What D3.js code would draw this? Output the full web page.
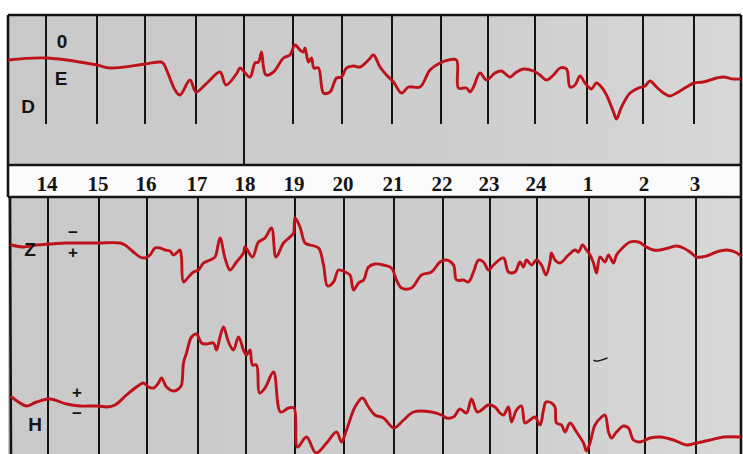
<!DOCTYPE html>
<html>
<head>
<meta charset="utf-8">
<script src="https://cdn.jsdelivr.net/npm/d3@7/dist/d3.min.js"></script>
<style>
  html, body { margin: 0; padding: 0; background: #ffffff; }
  svg { display: block; }
</style>
</head>
<body>
<svg id="chart" width="743" height="454"></svg>
<script>
// Chart time in hours (values above 24 belong to the following morning)
const hourMarks  = [14.00, 15.02, 15.98, 17.00, 17.96, 18.94, 19.92, 20.92, 21.90, 22.84, 23.78, 24.82, 25.94, 26.96];
const hourLabels = ["14", "15", "16", "17", "18", "19", "20", "21", "22", "23", "24", "1", "2", "3"];

// Declination trace (D)
const dTime = [13.24, 14.00, 15.02, 15.28, 15.98, 16.28, 16.34, 16.58, 16.68, 16.88,
               17.00, 17.22, 17.48, 17.60, 17.82, 17.88, 18.08, 18.18, 18.25, 18.31,
               18.35, 18.40, 18.55, 18.75, 18.88, 18.98, 19.08, 19.15, 19.18, 19.25,
               19.31, 19.36, 19.45, 19.55, 19.68, 19.81, 19.91, 20.01, 20.15, 20.28,
               20.45, 20.55, 20.68, 20.81, 20.95, 21.11, 21.25, 21.48, 21.68, 21.88,
               22.05, 22.21, 22.25, 22.41, 22.48, 22.55, 22.68, 22.81, 22.98, 23.11,
               23.28, 23.41, 23.55, 23.75, 23.88, 24.01, 24.15, 24.28, 24.41, 24.48,
               24.58, 24.68, 24.78, 24.85, 24.91, 25.01, 25.11, 25.21, 25.35, 25.41,
               25.51, 25.68, 25.85, 25.98, 26.08, 26.21, 26.35, 26.48, 26.61, 26.81,
               26.96, 27.15, 27.41, 27.55, 27.75, 27.90];
const dValue = [0, 2, -5, -8, -4, -2, -3, -30, -35, -20,
                -32, -23, -12, -25, -13, -8, -17, -3, -2, 8,
                -7, -15, -12, 2, 5, 15, 10, 8, 12, -2,
                2, -8, -8, -33, -32, -18, -17, -8, -6, -7,
                0, 5, -7, -15, -22, -33, -27, -27, -10, -3,
                0, 0, -28, -28, -32, -27, -13, -20, -13, -11,
                -17, -12, -9, -11, -15, -20, -15, -8, -9, -27,
                -25, -16, -23, -27, -29, -23, -27, -35, -52, -59,
                -47, -33, -28, -26, -21, -27, -33, -36, -33, -27,
                -23, -22, -18, -17, -19, -19];

// Vertical intensity trace (Z)
const zTime = [13.27, 13.51, 13.77, 14.04, 14.37, 14.71, 15.01, 15.44, 15.54, 15.71,
               15.84, 15.94, 16.04, 16.14, 16.24, 16.34, 16.44, 16.51, 16.57, 16.64,
               16.67, 16.71, 16.81, 16.91, 17.01, 17.11, 17.24, 17.34, 17.44, 17.54,
               17.64, 17.77, 17.91, 17.94, 18.09, 18.21, 18.34, 18.47, 18.56, 18.71,
               18.84, 18.91, 18.94, 19.04, 19.14, 19.24, 19.41, 19.51, 19.59, 19.71,
               19.81, 19.94, 20.04, 20.11, 20.21, 20.31, 20.41, 20.54, 20.71, 20.87,
               20.97, 21.07, 21.27, 21.47, 21.67, 21.84, 21.97, 22.11, 22.17, 22.31,
               22.41, 22.51, 22.61, 22.71, 22.81, 22.91, 23.11, 23.21, 23.34, 23.44,
               23.51, 23.57, 23.67, 23.77, 23.87, 23.96, 24.04, 24.07, 24.14, 24.24,
               24.41, 24.54, 24.61, 24.69, 24.77, 24.84, 24.91, 24.97, 25.04, 25.14,
               25.21, 25.31, 25.37, 25.51, 25.64, 25.81, 25.97, 26.11, 26.24, 26.41,
               26.57, 26.71, 26.84, 26.97, 27.17, 27.37, 27.57, 27.74, 27.86];
const zValue = [-2, -4, -2, -1, 0, 0, 0, 0, -2, -9,
                -14, -15, -12, -5, -5, -7, -8, -12, -10, -7,
                -15, -39, -34, -29, -27, -20, -17, -14, 5, -15,
                -27, -19, -10, -4, -14, 1, 5, 15, -14, 0,
                6, 10, 25, 16, 0, -2, -5, -22, -43, -39,
                -27, -29, -32, -47, -40, -37, -24, -21, -22, -25,
                -37, -45, -45, -32, -29, -19, -17, -22, -37, -37,
                -39, -29, -17, -19, -27, -22, -15, -29, -29, -19,
                -24, -17, -22, -17, -22, -32, -19, -10, -17, -20,
                -12, -7, -9, -2, -7, -12, -20, -30, -14, -19,
                -12, -20, -12, -4, 1, 1, -4, -7, -7, -5,
                -3, -5, -9, -14, -13, -9, -7, -9, -13];

// Horizontal intensity trace (H)
const hTime = [13.27, 13.41, 13.57, 13.77, 14.04, 14.37, 14.64, 15.01, 15.17, 15.34,
               15.57, 15.77, 15.91, 16.01, 16.11, 16.21, 16.27, 16.37, 16.51, 16.61,
               16.67, 16.71, 16.77, 16.87, 16.97, 17.07, 17.17, 17.31, 17.37, 17.44,
               17.51, 17.61, 17.71, 17.81, 17.91, 17.97, 18.04, 18.09, 18.17, 18.23,
               18.34, 18.51, 18.65, 18.81, 18.92, 18.99, 19.17, 19.36, 19.57, 19.77,
               19.87, 19.97, 20.14, 20.29, 20.41, 20.54, 20.71, 20.92, 21.11, 21.31,
               21.67, 21.87, 21.97, 22.11, 22.24, 22.37, 22.47, 22.59, 22.81, 22.94,
               23.04, 23.11, 23.21, 23.27, 23.37, 23.47, 23.54, 23.64, 23.74, 23.84,
               23.91, 23.96, 24.07, 24.14, 24.17, 24.27, 24.34, 24.44, 24.57, 24.71,
               24.77, 24.84, 24.94, 25.07, 25.14, 25.21, 25.27, 25.37, 25.51, 25.61,
               25.71, 25.84, 26.04, 26.24, 26.51, 26.77, 26.97, 27.24, 27.51, 27.86];
const hValue = [8, 3, -1, 3, 6, 1, -1, -1, -2, 0,
                10, 18, 22, 18, 17, 22, 27, 18, 14, 16,
                20, 42, 52, 68, 71, 62, 61, 62, 55, 68,
                78, 63, 55, 68, 55, 50, 55, 40, 40, 12,
                17, 33, -7, -3, -3, -42, -32, -48, -38, -27,
                -37, -25, -2, 7, -2, -10, -13, -23, -15, -7,
                -7, -10, -13, -12, -4, -8, 6, -7, 0, -2,
                -8, -10, -2, -17, -5, -1, -18, -15, -12, -20,
                -5, 3, 2, -2, -18, -20, -27, -18, -27, -38,
                -46, -38, -20, -12, -10, -27, -33, -27, -21, -23,
                -35, -37, -33, -32, -35, -40, -38, -35, -32, -32];

// Small pen stroke left beside the H trace
const penTime  = [24.91, 24.98, 25.19];
const penValue = [45, 43, 47];

// ---------------------------------------------------------------
const svg = d3.select("#chart");
const W = 743, H = 454;

const frame = { left: 8, right: 741, top: 15 };
const topPanel = { top: 15, bottom: 165, markEnd: 124 };
const band = { top: 166, bottom: 197 };
const botPanel = { top: 198, bottom: 462 };

const RED = "#be121b";
const INK = "#141414";

// Time scales; the lower sheet sits a touch to the right of the upper one
const xTop = d3.scaleLinear().domain([14, 27]).range([46, 696]);
const xBot = d3.scaleLinear().domain([14, 27]).range([48, 698]);

// Trace scales (arbitrary units, zero at each trace's baseline)
const yD = d3.scaleLinear().domain([-50, 50]).range([110, 10]);
const yZ = d3.scaleLinear().domain([-50, 50]).range([293, 193]);
const yH = d3.scaleLinear().domain([-50, 50]).range([455, 355]);

const defs = svg.append("defs");
const grad = defs.append("linearGradient").attr("id", "paper")
  .attr("x1", "0%").attr("x2", "100%").attr("y1", "0%").attr("y2", "0%");
grad.append("stop").attr("offset", "0%").attr("stop-color", "#c9c9c9");
grad.append("stop").attr("offset", "60%").attr("stop-color", "#cdcdcd");
grad.append("stop").attr("offset", "100%").attr("stop-color", "#d8d8d8");

defs.append("clipPath").attr("id", "clipTop").append("rect")
  .attr("x", frame.left).attr("y", topPanel.top)
  .attr("width", frame.right - frame.left).attr("height", topPanel.bottom - topPanel.top);
defs.append("clipPath").attr("id", "clipBot").append("rect")
  .attr("x", frame.left).attr("y", botPanel.top)
  .attr("width", frame.right - frame.left).attr("height", botPanel.bottom - botPanel.top);

svg.append("rect").attr("width", W).attr("height", H).attr("fill", "#ffffff");

// Paper of the two sheets
svg.append("rect")
  .attr("x", frame.left).attr("y", topPanel.top)
  .attr("width", frame.right - frame.left).attr("height", topPanel.bottom - topPanel.top)
  .attr("fill", "url(#paper)");
svg.append("rect")
  .attr("x", frame.left).attr("y", botPanel.top)
  .attr("width", frame.right - frame.left).attr("height", botPanel.bottom - botPanel.top)
  .attr("fill", "url(#paper)");
// White time strip
svg.append("rect")
  .attr("x", frame.left).attr("y", band.top)
  .attr("width", frame.right - frame.left).attr("height", band.bottom - band.top)
  .attr("fill", "#fbfbfb");

// Hour marks, upper sheet (the 18h mark runs down to the strip)
svg.append("g").selectAll("line").data(hourMarks).join("line")
  .attr("x1", d => xTop(d)).attr("x2", d => xTop(d))
  .attr("y1", topPanel.top)
  .attr("y2", (d, i) => hourLabels[i] === "18" ? topPanel.bottom : topPanel.markEnd)
  .attr("stroke", INK).attr("stroke-width", 2);

// Hour marks, lower sheet
svg.append("g").selectAll("line").data(hourMarks).join("line")
  .attr("x1", d => xBot(d)).attr("x2", d => xBot(d))
  .attr("y1", botPanel.top).attr("y2", botPanel.bottom)
  .attr("stroke", INK).attr("stroke-width", 2);

// Hour labels in the strip
svg.append("g").selectAll("text").data(hourMarks).join("text")
  .attr("x", d => (xTop(d) + xBot(d)) / 2)
  .attr("y", 190.5)
  .attr("text-anchor", "middle")
  .attr("font-family", "'Liberation Serif', 'DejaVu Serif', serif")
  .attr("font-weight", "bold")
  .attr("font-size", 21)
  .attr("fill", INK)
  .text((d, i) => hourLabels[i]);

// Frame lines
const frameLines = [
  [frame.left, topPanel.top, frame.right, topPanel.top],
  [frame.left, topPanel.bottom, frame.right, topPanel.bottom],
  [frame.left, band.bottom, frame.right, band.bottom],
  [frame.left, topPanel.top, frame.left, band.bottom],
  [frame.left + 2, band.bottom, frame.left + 3, botPanel.bottom],
  [frame.right, topPanel.top, frame.right, botPanel.bottom]
];
svg.append("g").selectAll("line").data(frameLines).join("line")
  .attr("x1", d => d[0]).attr("y1", d => d[1])
  .attr("x2", d => d[2]).attr("y2", d => d[3])
  .attr("stroke", INK).attr("stroke-width", 2.6);

// Traces
function trace(times, values, x, y, clip) {
  const pts = times.map((t, i) => [t, values[i]]);
  svg.append("path")
    .attr("clip-path", `url(#${clip})`)
    .attr("d", d3.line().curve(d3.curveCatmullRom.alpha(0.5))
      .x(d => x(d[0])).y(d => y(d[1]))(pts))
    .attr("fill", "none")
    .attr("stroke", RED)
    .attr("stroke-width", 2.9)
    .attr("stroke-linejoin", "round")
    .attr("stroke-linecap", "round");
}
trace(dTime, dValue, xTop, yD, "clipTop");
trace(zTime, zValue, xBot, yZ, "clipBot");
trace(hTime, hValue, xBot, yH, "clipBot");

// Pen stroke
svg.append("path")
  .attr("d", d3.line().curve(d3.curveBasis)
    .x(d => xBot(d[0])).y(d => yH(d[1]))(penTime.map((t, i) => [t, penValue[i]])))
  .attr("fill", "none").attr("stroke", INK).attr("stroke-width", 1.4);

// Element letters and sign marks
const sans = "'Liberation Sans', Arial, sans-serif";
const letters = [
  { t: "0", x: 62, y: 48 },
  { t: "E", x: 61, y: 85 },
  { t: "D", x: 28, y: 113 },
  { t: "Z", x: 30, y: 256 },
  { t: "H", x: 35, y: 431 }
];
svg.append("g").selectAll("text").data(letters).join("text")
  .attr("x", d => d.x).attr("y", d => d.y)
  .attr("text-anchor", "middle")
  .attr("font-family", sans).attr("font-weight", "bold").attr("font-size", 19)
  .attr("fill", INK).text(d => d.t);

const signs = [
  { t: "\u2212", x: 73, y: 238 },
  { t: "+", x: 73, y: 258 },
  { t: "+", x: 77, y: 398 },
  { t: "\u2212", x: 77, y: 419 }
];
svg.append("g").selectAll("text").data(signs).join("text")
  .attr("x", d => d.x).attr("y", d => d.y)
  .attr("text-anchor", "middle")
  .attr("font-family", sans).attr("font-weight", "bold").attr("font-size", 17)
  .attr("fill", INK).text(d => d.t);
</script>
</body>
</html>
